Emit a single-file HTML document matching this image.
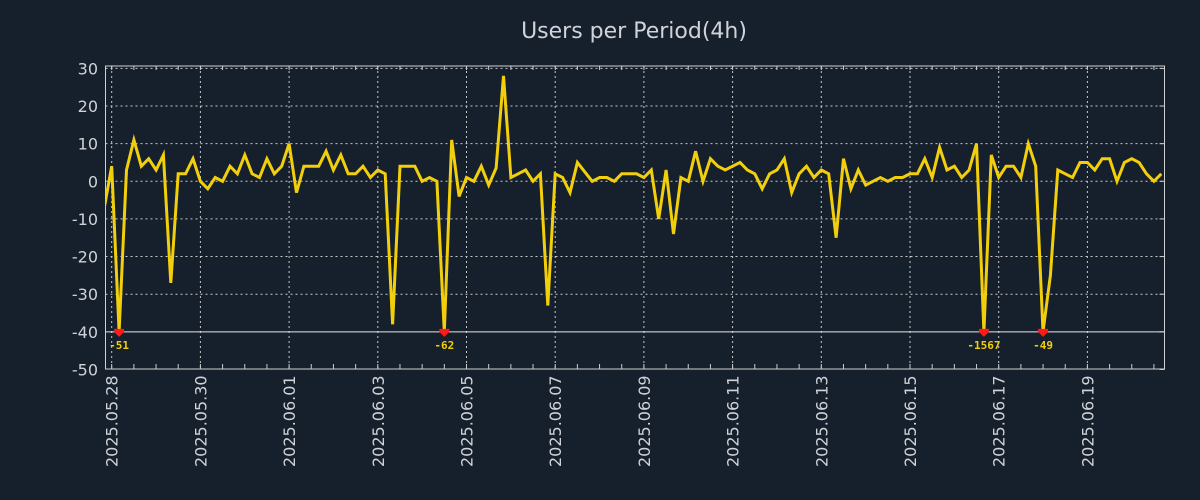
<!DOCTYPE html>
<html><head><meta charset="utf-8"><style>
body{margin:0;background:#161f2c;}
svg{display:block;font-family:"DejaVu Sans","Liberation Sans",sans-serif;}
</style></head><body>
<svg id="chart" width="1200" height="500" viewBox="0 0 1200 500">
<rect width="1200" height="500" fill="#161f2c"/>
<text x="634" y="38" text-anchor="middle" font-size="22" fill="#d0d4da">Users per Period(4h)</text>
<g id="grid"></g>
<g id="axes"></g>
<g id="series"></g>
</svg>
<script>
const dateLabels = ["2025.05.28","2025.05.30","2025.06.01","2025.06.03","2025.06.05","2025.06.07","2025.06.09","2025.06.11","2025.06.13","2025.06.15","2025.06.17","2025.06.19"];
const yTicks = [30,20,10,0,-10,-20,-30,-40,-50];
const values = [-7,4,-51,3,11,4,6,3,7,-27,2,2,6,0,-2,1,0,4,2,7,2,1,6,2,4,10,-3,4,4,4,8,3,7,2,2,4,1,3,2,-38,4,4,4,0,1,0,-62,11,-4,1,0,4,-1,3.5,28,1,2,3,0,2,-33,2,1,-3,5,2.5,0,1,1,0,2,2,2,1,3,-10,3,-14,1,0,8,0,6,4,3,4,5,3,2,-2,2,3,6,-3,2,4,1,3,2,-15,6,-2,3,-1,0,1,0,1,1,2,2,6,1,9,3,4,1,3,10,-1567,7,1,4,4,1,10,4,-49,-25,3,2,1,5,5,3,6,6,0,5,6,5,2,0,2];
const startHours = -4, stepHours = 4, floorVal = -40;

const NS="http://www.w3.org/2000/svg";
const L=105.5,R=1164.5,T=66,B=369;
const dayX=d=>111.7+d*44.35;
const xAt=i=>dayX((startHours+i*stepHours)/24);
const yAt=v=>181.3-v*3.763;
function mk(tag,attrs,parent){const e=document.createElementNS(NS,tag);for(const k in attrs)e.setAttribute(k,attrs[k]);parent.appendChild(e);return e;}
const grid=document.getElementById('grid'),axes=document.getElementById('axes'),series=document.getElementById('series');

yTicks.forEach(v=>{
  const y=yAt(v);
  if(v!==-40&&v!==-50&&v!==30){const g=mk('line',{x1:L,x2:R,y1:y,y2:y,stroke:'#c8c8c8','stroke-width':1,'stroke-dasharray':'2,3'},grid);
  
  }
  if(v===30){const g=mk('line',{x1:L,x2:R,y1:y,y2:y,stroke:'#c8c8c8','stroke-width':1,'stroke-dasharray':'2,3'},grid);
  
  }
  const t=mk('text',{x:98,y:y+6,'text-anchor':'end','font-size':16,fill:'#cfd3d8'},axes);t.textContent=v;
  
  
  const tk=mk('line',{x1:R-5,x2:R,y1:y,y2:y,stroke:'#ccc'},axes);
  
  
});
dateLabels.forEach((lab,k)=>{
  const x=dayX(k*2);
  const g=mk('line',{x1:x,x2:x,y1:T,y2:B,stroke:'#c8c8c8','stroke-width':1,'stroke-dasharray':'2,3'},grid);
  
  
  const t=mk('text',{x:0,y:0,transform:`translate(${x+6},${B+98}) rotate(-90)`,'font-size':16,fill:'#cfd3d8'},axes);t.textContent=lab;
  
  
});
for(let h=0;dayX(h)<R;h+=0.5){const x=dayX(h);
  const a=mk('line',{x1:x,x2:x,y1:B-5,y2:B,stroke:'#ccc'},axes);
  
  
  const b=mk('line',{x1:x,x2:x,y1:T,y2:T+4,stroke:'#ccc'},axes);
  
  
}
const thr=mk('line',{x1:L,x2:R,y1:yAt(floorVal),y2:yAt(floorVal),stroke:'#e6e6e6','stroke-width':1},axes);


const frame=mk('rect',{x:L,y:T,width:R-L,height:B-T,fill:'none',stroke:'#d0d0d0','stroke-width':1},axes);



const cp=mk('clipPath',{id:'clip'},series);mk('rect',{x:L,y:T,width:R-L,height:B-T},cp);
const pts=values.map((v,i)=>xAt(i).toFixed(1)+','+yAt(Math.max(v,floorVal)).toFixed(1)).join(' ');
const line=mk('polyline',{points:pts,fill:'none',stroke:'#f2cf0c','stroke-width':3,'stroke-linejoin':'miter','clip-path':'url(#clip)'},series);


values.forEach((v,i)=>{
  if(v<floorVal){
    const x=xAt(i),y=yAt(floorVal);
    const m=mk('path',{d:`M${x-5},${y-3} L${x+5},${y-3} L${x+5},${y} L${x},${y+5} L${x-5},${y} Z`,fill:'#ff1a1a'},series);
    
    
    const t=mk('text',{x:x,y:y+17,'text-anchor':'middle','font-size':11,'font-weight':'bold',fill:'#f2cf0c','font-family':'"DejaVu Sans Mono","Liberation Mono",monospace'},series);
    t.textContent=v;
    
    
  }
});
</script>
</body></html>
